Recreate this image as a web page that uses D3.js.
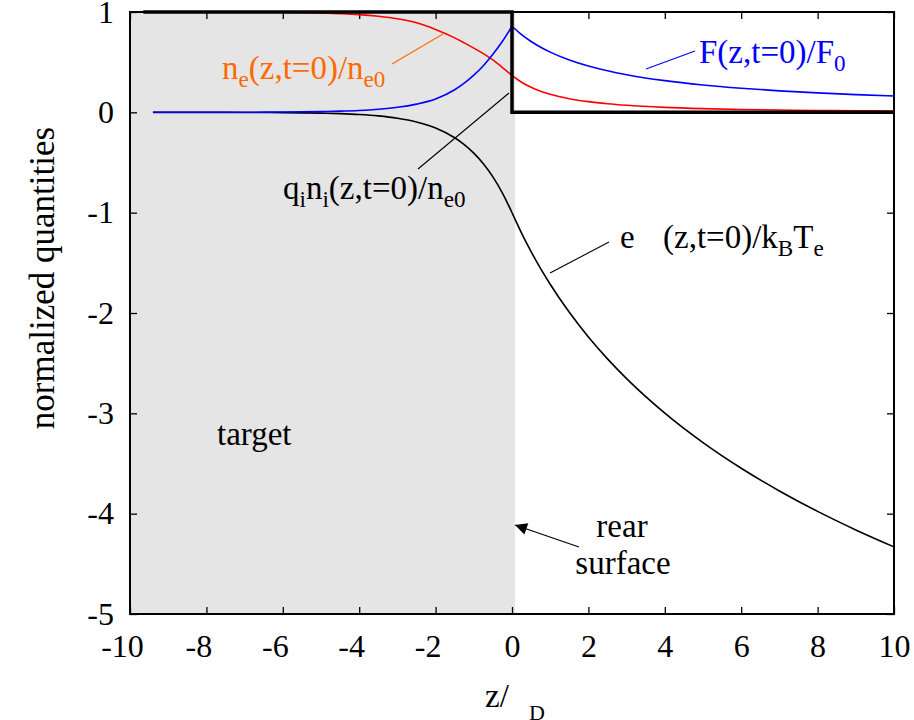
<!DOCTYPE html>
<html>
<head>
<meta charset="utf-8">
<script src="https://cdn.jsdelivr.net/npm/d3@7"></script>
<style>
  html, body { margin: 0; padding: 0; background: #fff; }
  svg { display: block; }
  svg text { font-family: "Liberation Serif", "Times New Roman", serif; }
</style>
</head>
<body>
<svg id="chart" width="914" height="720"></svg>
<script>
// Normalized position z/lambda_D where the profiles are sampled
const zs = [-9.4, -8.5, -8, -7, -6, -5, -4.5, -4, -3.5, -3, -2.5, -2, -1.5, -1.25, -1, -0.75, -0.5, -0.25, 0,
            0.25, 0.5, 0.75, 1, 1.5, 2, 2.5, 3, 4, 5, 6, 7, 8, 9, 10];

// Electron density n_e/n_e0
const neVals = [1.0, 0.9998, 0.9996, 0.9989, 0.997, 0.991, 0.984, 0.974, 0.957, 0.932, 0.892, 0.826, 0.742, 0.692, 0.64, 0.585, 0.522, 0.446, 0.3679,
                0.3001, 0.2494, 0.2106, 0.1802, 0.1362, 0.1066, 0.0857, 0.0703, 0.0499, 0.0372, 0.0288, 0.023, 0.0187, 0.0156, 0.0132];

// Electric field F/F0
const fieldVals = [0.0001, 0.0002, 0.0004, 0.0011, 0.0028, 0.0075, 0.012, 0.019, 0.031, 0.05, 0.082, 0.133, 0.225, 0.29, 0.37, 0.465, 0.578, 0.708, 0.858,
                   0.7747, 0.7064, 0.649, 0.6003, 0.522, 0.4617, 0.414, 0.3751, 0.3159, 0.2728, 0.2401, 0.2143, 0.1936, 0.1765, 0.1622];

// Potential e*phi/k_B T_e
const phiVals = [-0.0001, -0.0002, -0.0004, -0.0011, -0.0029, -0.008, -0.0131, -0.0216, -0.0355, -0.0583, -0.0956, -0.156, -0.253, -0.321, -0.406, -0.512, -0.643, -0.8045, -1.0,
                 -1.2037, -1.3886, -1.5578, -1.7138, -1.9934, -2.2388, -2.4573, -2.6542, -2.998, -3.2914, -3.547, -3.7736, -3.9774, -4.162, -4.3312];

// Ion charge density q_i n_i / n_e0 (step profile)
const ionZ = [-9.65, 0, 0, 10];
const ionVals = [1, 1, 0, 0];

// Target slab extent
const targetRange = [-10, 0.08];

const xTicks = [-10, -8, -6, -4, -2, 0, 2, 4, 6, 8, 10];
const yTicks = [1, 0, -1, -2, -3, -4, -5];

const SERIF = '"Liberation Serif", "Times New Roman", serif';
const M = { left: 130, right: 894, top: 12, bottom: 614 };
const svg = d3.select("#chart");

const x = d3.scaleLinear().domain([-10, 10]).range([M.left, M.right]);
const y = d3.scaleLinear().domain([-5, 1]).range([M.bottom, M.top]);

// shaded target region
svg.append("rect")
  .attr("x", x(targetRange[0])).attr("y", M.top)
  .attr("width", x(targetRange[1]) - x(targetRange[0]))
  .attr("height", M.bottom - M.top)
  .attr("fill", "#e5e5e5");

// axes with inward ticks
const tickFont = 32;
const gx = svg.append("g").attr("transform", `translate(0,${M.bottom})`)
  .call(d3.axisBottom(x).tickValues(xTicks).tickFormat(d => String(d)).tickSize(-7).tickPadding(20));
const gxt = svg.append("g").attr("transform", `translate(0,${M.top})`)
  .call(d3.axisTop(x).tickValues(xTicks).tickFormat("").tickSize(-7));
const gy = svg.append("g").attr("transform", `translate(${M.left},0)`)
  .call(d3.axisLeft(y).tickValues(yTicks).tickFormat(d => String(d)).tickSize(-7).tickPadding(16));
const gyr = svg.append("g").attr("transform", `translate(${M.right},0)`)
  .call(d3.axisRight(y).tickValues(yTicks).tickFormat("").tickSize(-7));
[gx, gxt, gy, gyr].forEach(g => {
  g.attr("font-family", null).attr("font-size", null);
  g.select(".domain").remove();
  g.selectAll(".tick line").attr("stroke", "#000").attr("stroke-width", 1.3);
  g.selectAll("text").style("font-family", SERIF).style("font-size", tickFont + "px").attr("fill", "#000");
});
// negative x labels hang their minus sign to the left
gx.selectAll(".tick text").attr("dx", d => d < 0 ? -8 : 0);

// frame
svg.append("rect")
  .attr("x", M.left).attr("y", M.top)
  .attr("width", M.right - M.left).attr("height", M.bottom - M.top)
  .attr("fill", "none").attr("stroke", "#000").attr("stroke-width", 2);

// profile curves, drawn separately inside and outside the target
const i0 = zs.indexOf(0);
function segments(vals) {
  const pts = zs.map((z, i) => [z, vals[i]]);
  return [pts.slice(0, i0 + 1), pts.slice(i0)];
}
const line = d3.line().x(d => x(d[0])).y(d => y(d[1])).curve(d3.curveMonotoneX);

function drawProfile(vals, color, w) {
  segments(vals).forEach(seg => {
    svg.append("path").attr("d", line(seg))
      .attr("fill", "none").attr("stroke", color).attr("stroke-width", w);
  });
}
drawProfile(phiVals, "#000", 1.6);
drawProfile(neVals, "#ff0000", 1.6);
drawProfile(fieldVals, "#0000ff", 1.6);

// ion step
const stepLine = d3.line().x((d, i) => x(ionZ[i])).y(d => y(d));
svg.append("path").attr("d", stepLine(ionVals))
  .attr("fill", "none").attr("stroke", "#000").attr("stroke-width", 3.5)
  .attr("stroke-linejoin", "miter");

// annotations
const annFont = 33;
function label(xp, yp, parts, color) {
  const t = svg.append("text").attr("x", xp).attr("y", yp)
    .style("font-size", annFont + "px").attr("fill", color);
  let shifted = false;
  parts.forEach(p => {
    const ts = t.append("tspan").text(p.t);
    if (p.sub && !shifted) { ts.attr("dy", 8).style("font-size", (annFont * 0.7) + "px"); shifted = true; }
    else if (p.sub) { ts.style("font-size", (annFont * 0.7) + "px"); }
    else if (shifted) { ts.attr("dy", -8); shifted = false; }
  });
  return t;
}
function leader(x1, y1, x2, y2, color) {
  svg.append("line").attr("x1", x1).attr("y1", y1).attr("x2", x2).attr("y2", y2)
    .attr("stroke", color).attr("stroke-width", 1.1);
}

const orange = "#ff6a00";
label(222, 79, [{t: "n"}, {t: "e", sub: true}, {t: "(z,t=0)/n"}, {t: "e0", sub: true}], orange);
leader(392, 64, 443, 34, orange);

label(699, 63, [{t: "F(z,t=0)/F"}, {t: "0", sub: true}], "#0000ff");
leader(646, 69, 695, 51, "#0000ff");

label(283, 199, [{t: "q"}, {t: "i", sub: true}, {t: "n"}, {t: "i", sub: true}, {t: "(z,t=0)/n"}, {t: "e0", sub: true}], "#000");
leader(418, 169, 509, 93, "#000");

label(620, 248, [{t: "e"}], "#000");
label(663, 248, [{t: "(z,t=0)/k"}, {t: "B", sub: true}, {t: "T"}, {t: "e", sub: true}], "#000");
leader(550, 273, 609, 242, "#000");

svg.append("text").attr("x", 217).attr("y", 445).style("font-size", annFont + "px").text("target");

svg.append("text").attr("x", 622).attr("y", 537).style("font-size", annFont + "px").attr("text-anchor", "middle").text("rear");
svg.append("text").attr("x", 623).attr("y", 574).style("font-size", annFont + "px").attr("text-anchor", "middle").text("surface");

// arrow to the rear surface
svg.append("defs").append("marker")
  .attr("id", "arrowhead").attr("viewBox", "0 0 10 10").attr("refX", 10).attr("refY", 5)
  .attr("markerWidth", 17).attr("markerHeight", 12).attr("markerUnits", "userSpaceOnUse")
  .attr("orient", "auto")
  .append("path").attr("d", "M0,0 L10,5 L0,10 z").attr("fill", "#000");
svg.append("line").attr("x1", 579).attr("y1", 547).attr("x2", 515).attr("y2", 525)
  .attr("stroke", "#000").attr("stroke-width", 1.2).attr("marker-end", "url(#arrowhead)");

// axis titles
svg.append("text").attr("transform", "translate(54,278) rotate(-90)")
  .attr("text-anchor", "middle").style("font-size", "35px").text("normalized quantities");
const xt = svg.append("text").attr("x", 485).attr("y", 707).style("font-size", "33px");
xt.append("tspan").text("z/");
xt.append("tspan").attr("x", 529).attr("dy", 13).style("font-size", "22px").text("D");
</script>
</body>
</html>
